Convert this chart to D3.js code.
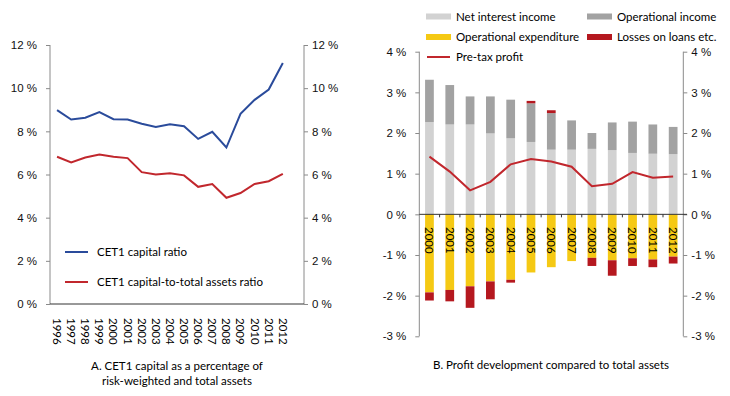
<!DOCTYPE html>
<html>
<head>
<meta charset="utf-8">
<script src="https://cdn.jsdelivr.net/npm/d3@7"></script>
<style>
  body { margin: 0; background: #fff; }
  svg { display: block; font-family: "Lato", "Open Sans", sans-serif; }
  .tick text { font-size: 11.5px; fill: #111; }
  .lbl { font-size: 11.5px; fill: #000; }
</style>
</head>
<body>
<svg width="730" height="396"></svg>
<script>
// Panel A data
const yearsA = d3.range(1996, 2013);
const cet1Ratio = [8.98, 8.55, 8.63, 8.89, 8.56, 8.55, 8.35, 8.2, 8.33, 8.24, 7.65, 7.98, 7.25, 8.81, 9.46, 9.94, 11.17];
const cet1Assets = [6.82, 6.56, 6.79, 6.93, 6.82, 6.76, 6.11, 6.0, 6.06, 5.96, 5.43, 5.56, 4.92, 5.14, 5.56, 5.69, 6.03];
const ticksA = [0, 2, 4, 6, 8, 10, 12];

// Panel B data
const yearsB = d3.range(2000, 2013);
const netInterest = [2.27, 2.21, 2.21, 1.99, 1.87, 1.78, 1.59, 1.59, 1.61, 1.58, 1.51, 1.49, 1.48];
const opIncome = [1.04, 0.97, 0.69, 0.91, 0.95, 0.95, 0.90, 0.72, 0.39, 0.68, 0.77, 0.72, 0.67];
const opExpense = [-1.92, -1.86, -1.77, -1.65, -1.61, -1.43, -1.30, -1.15, -1.07, -1.13, -1.08, -1.11, -1.04];
const loanLosses = [-0.20, -0.28, -0.53, -0.44, -0.07, 0.06, 0.07, 0, -0.20, -0.38, -0.19, -0.19, -0.17];
const preTax = [1.42, 1.05, 0.59, 0.80, 1.23, 1.36, 1.30, 1.17, 0.69, 0.75, 1.04, 0.90, 0.93];
const ticksB = [-3, -2, -1, 0, 1, 2, 3, 4];

const blue = "#2a4b9b", red = "#c1272d", axisGrey = "#8a8a8a";
const cLight = "#d2d2d2", cDark = "#a2a2a2", cYellow = "#f5c914", cLoss = "#b5181f";

const svg = d3.select("svg");
const fmt = d => d + " %";

// ---------- Panel A ----------
const xA = d3.scaleBand().domain(d3.range(1996, 2014)).range([50, 304]);
const yA = d3.scaleLinear().domain([0, 12]).range([304, 45]);
const cx = y => xA(y) + xA.bandwidth() / 2;

const gA = svg.append("g");
gA.append("g").attr("transform", "translate(50,0)")
  .call(d3.axisLeft(yA).tickValues(ticksA).tickFormat(fmt).tickSize(4).tickPadding(9))
  .call(g => g.selectAll("path,line").attr("stroke", axisGrey));
gA.append("g").attr("transform", "translate(304,0)")
  .call(d3.axisRight(yA).tickValues(ticksA).tickFormat(fmt).tickSize(4).tickPadding(4))
  .call(g => g.selectAll("path,line").attr("stroke", axisGrey));
gA.selectAll(".domain").attr("d", `M0,${yA(12)}V${yA(0)}`);
gA.append("line").attr("x1", 50).attr("x2", 304).attr("y1", yA(0)).attr("y2", yA(0))
  .attr("stroke", "#333").attr("stroke-width", 1);

const lineA = arr => d3.line().x((d, i) => cx(yearsA[i])).y(d => yA(d))(arr);
gA.append("path").attr("d", lineA(cet1Ratio)).attr("fill", "none").attr("stroke", blue).attr("stroke-width", 2);
gA.append("path").attr("d", lineA(cet1Assets)).attr("fill", "none").attr("stroke", red).attr("stroke-width", 2);

gA.selectAll(".yr").data(yearsA).join("text").attr("class", "lbl")
  .attr("transform", d => `translate(${cx(d)},318) rotate(90)`)
  .attr("dy", "0.35em").text(d => d);

[["CET1 capital ratio", blue, 252], ["CET1 capital-to-total assets ratio", red, 282]].forEach(([t, c, y]) => {
  gA.append("line").attr("x1", 65).attr("x2", 88).attr("y1", y).attr("y2", y).attr("stroke", c).attr("stroke-width", 2);
  gA.append("text").attr("class", "lbl").attr("x", 97).attr("y", y).attr("dy", "0.35em").text(t);
});
gA.append("text").attr("class", "lbl").attr("x", 177).attr("y", 370).attr("text-anchor", "middle")
  .text("A. CET1 capital as a percentage of");
gA.append("text").attr("class", "lbl").attr("x", 177).attr("y", 385).attr("text-anchor", "middle")
  .text("risk-weighted and total assets");

// ---------- Panel B ----------
const xB = d3.scaleBand().domain(yearsB).range([419.3, 683.3]).paddingInner(0.57).paddingOuter(0.285);
const yB = d3.scaleLinear().domain([-3, 4]).range([336.3, 51.7]);
const bx = y => xB(y) + xB.bandwidth() / 2;

const gB = svg.append("g");
gB.append("g").attr("transform", "translate(419.3,0)")
  .call(d3.axisLeft(yB).tickValues(ticksB).tickFormat(fmt).tickSize(4).tickPadding(9))
  .call(g => g.selectAll("path,line").attr("stroke", axisGrey));
gB.append("g").attr("transform", "translate(683.3,0)")
  .call(d3.axisRight(yB).tickValues(ticksB).tickFormat(fmt).tickSize(4).tickPadding(4))
  .call(g => g.selectAll("path,line").attr("stroke", axisGrey));
gB.selectAll(".domain").attr("d", `M0,${yB(4)}V${yB(-3)}`);

const segs = [];
yearsB.forEach((yr, i) => {
  const pos = [[netInterest[i], cLight], [opIncome[i], cDark], [Math.max(loanLosses[i], 0), cLoss]];
  const neg = [[opExpense[i], cYellow], [Math.min(loanLosses[i], 0), cLoss]];
  let top = 0;
  pos.forEach(([v, c]) => { if (v > 0) { segs.push({ yr, y0: top, y1: top + v, c }); top += v; } });
  let bot = 0;
  neg.forEach(([v, c]) => { if (v < 0) { segs.push({ yr, y0: bot + v, y1: bot, c }); bot += v; } });
});
gB.selectAll(".bar").data(segs).join("rect")
  .attr("x", d => xB(d.yr)).attr("width", xB.bandwidth())
  .attr("y", d => yB(d.y1)).attr("height", d => yB(d.y0) - yB(d.y1))
  .attr("fill", d => d.c);

gB.append("line").attr("x1", 419.3).attr("x2", 687).attr("y1", yB(0)).attr("y2", yB(0))
  .attr("stroke", "#333");
gB.selectAll(".sep").data(yearsB.slice(1)).join("line")
  .attr("x1", d => xB(d) - xB.step() * xB.paddingInner() / 2)
  .attr("x2", d => xB(d) - xB.step() * xB.paddingInner() / 2)
  .attr("y1", yB(0)).attr("y2", yB(0) + 3).attr("stroke", "#333");

gB.append("path").attr("d", d3.line().x((d, i) => bx(yearsB[i])).y(d => yB(d))(preTax))
  .attr("fill", "none").attr("stroke", red).attr("stroke-width", 2);

gB.selectAll(".yr").data(yearsB).join("text").attr("class", "lbl")
  .attr("transform", d => `translate(${bx(d)},227) rotate(90)`)
  .attr("dy", "0.35em").text(d => d);

const legB = [
  ["Net interest income", cLight, 426, 16.5, "rect"],
  ["Operational income", cDark, 587, 16.5, "rect"],
  ["Operational expenditure", cYellow, 426, 37, "rect"],
  ["Losses on loans etc.", cLoss, 587, 37, "rect"],
  ["Pre-tax profit", red, 426, 57, "line"]
];
legB.forEach(([t, c, x, y, k]) => {
  if (k === "rect") gB.append("rect").attr("x", x).attr("y", y - 3).attr("width", 25).attr("height", 6).attr("fill", c);
  else gB.append("line").attr("x1", x + 1).attr("x2", x + 24).attr("y1", y).attr("y2", y).attr("stroke", c).attr("stroke-width", 2);
  gB.append("text").attr("class", "lbl").attr("x", x + 30).attr("y", y).attr("dy", "0.35em").text(t);
});
gB.append("text").attr("class", "lbl").attr("x", 551).attr("y", 369).attr("text-anchor", "middle")
  .text("B. Profit development compared to total assets");
</script>
</body>
</html>
